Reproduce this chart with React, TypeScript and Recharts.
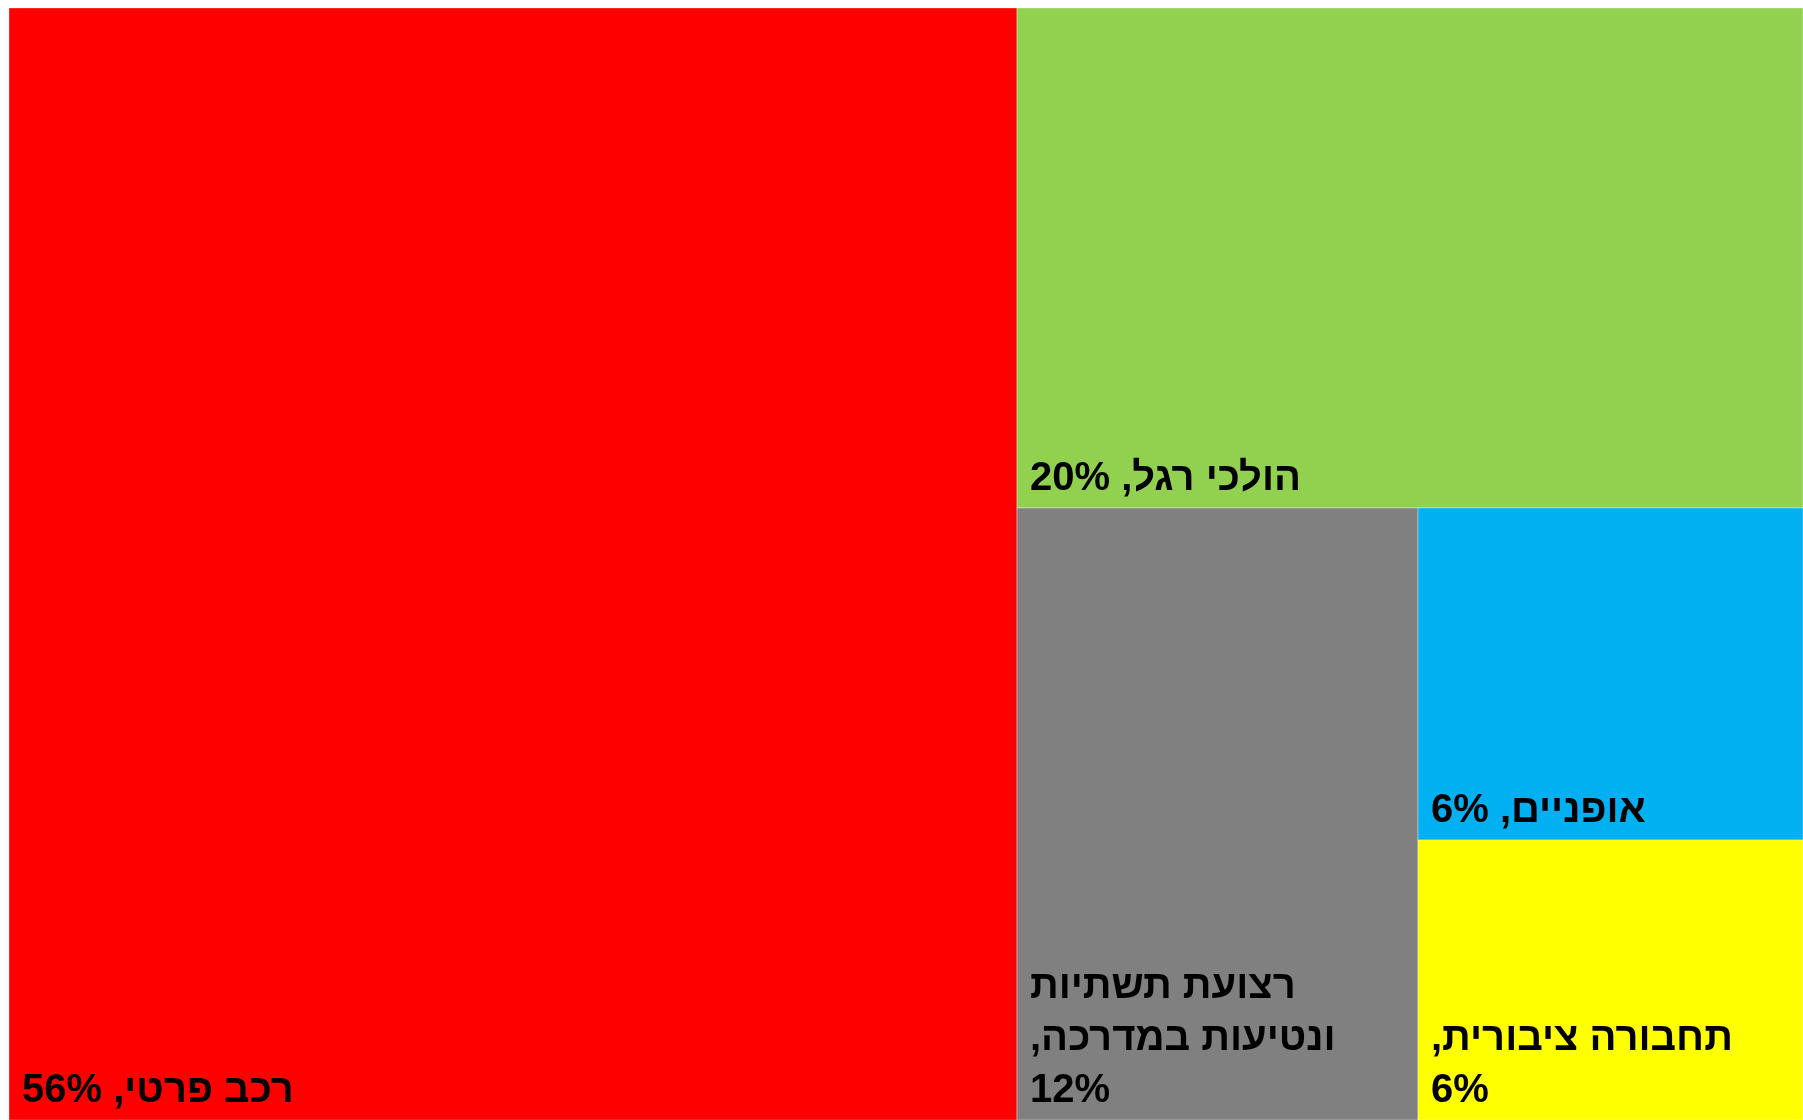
import { Treemap } from "recharts";

const categories = [
  "רכב פרטי",
  "הולכי רגל",
  "רצועת תשתיות ונטיעות במדרכה",
  "אופניים",
  "תחבורה ציבורית",
];
const shares = [56.2, 19.7, 12.3, 6.4, 5.4];
const percentLabels = ["56%", "20%", "12%", "6%", "6%"];
// how the labels wrap inside their boxes
const labelLines = [
  ["רכב פרטי, 56%"],
  ["הולכי רגל, 20%"],
  ["רצועת תשתיות", "ונטיעות במדרכה,", "12%"],
  ["אופניים, 6%"],
  ["תחבורה ציבורית,", "6%"],
];

const colors = ["#FF0000", "#92D050", "#808080", "#00B0F0", "#FFFF00"];

const data = categories.map((name, i) => ({
  name,
  size: shares[i],
  pct: percentLabels[i],
  idx: i,
}));

function Cell(props: any) {
  const { x, y, width, height, depth, idx } = props;
  if (depth !== 1 || idx === undefined) return null;
  const lines: string[] = labelLines[idx];
  const lineH = 52;
  const lastBaseline = y + height - 18;
  return (
    <g>
      <rect
        x={x}
        y={y}
        width={width}
        height={height}
        fill={colors[idx]}
        stroke="rgba(255,255,255,0.35)"
        strokeWidth={1}
      />
      {lines.map((ln, j) => (
        <text
          key={j}
          x={x + 13}
          y={lastBaseline - (lines.length - 1 - j) * lineH}
          direction="rtl"
          textAnchor="end"
          fill="#000"
          fontSize={40}
          fontWeight={700}
          fontFamily="'Liberation Sans', Arial, sans-serif"
        >
          {ln}
        </text>
      ))}
    </g>
  );
}

export default function App() {
  return (
    <div style={{ position: "fixed", left: 9, top: 8, width: 1794, height: 1112 }}>
      <Treemap
        width={1794}
        height={1112}
        data={data}
        dataKey="size"
        aspectRatio={1}
        isAnimationActive={false}
        content={<Cell />}
      />
    </div>
  );
}
